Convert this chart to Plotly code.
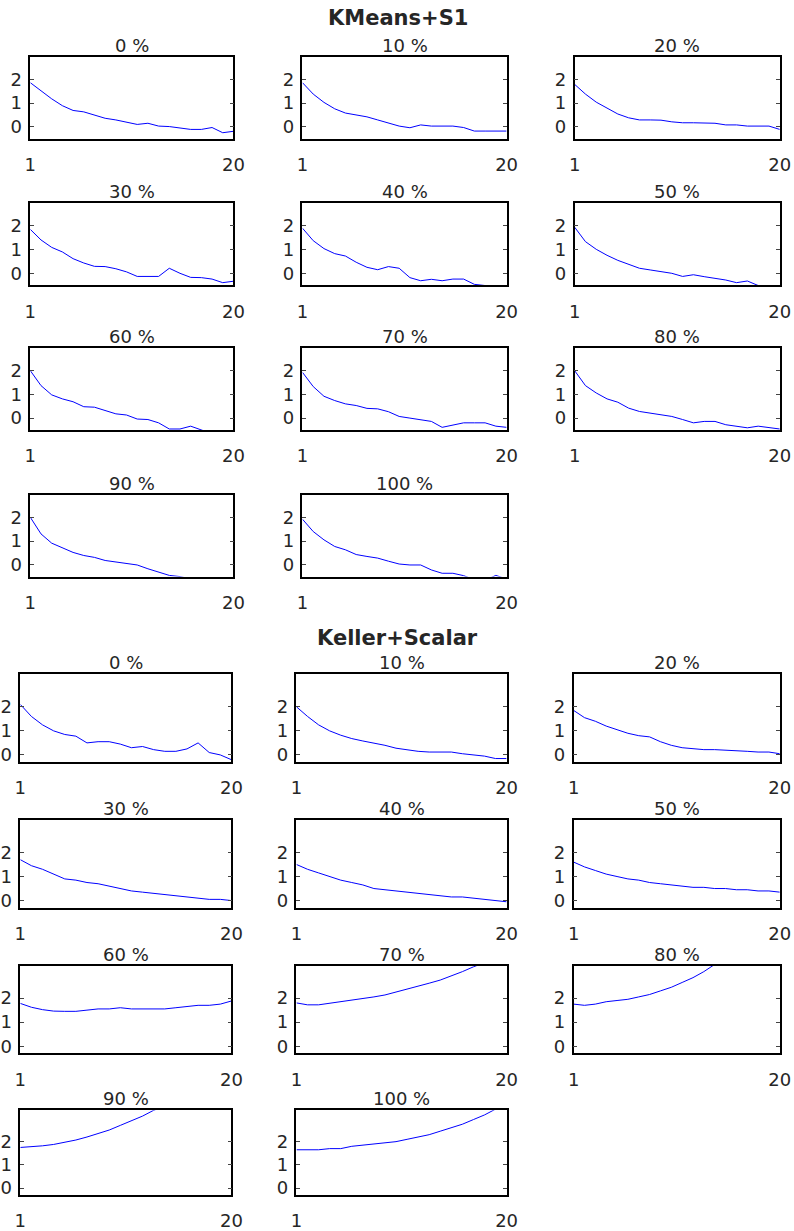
import plotly.graph_objects as go

W, H = 794, 1231

x_vals = list(range(1, 21))
x_tick_vals = [1, 20]
x_tick_text = ["1", "20"]
y_tick_vals = [0, 1, 2]
y_tick_text = ["0", "1", "2"]

panel_labels = ["0 %", "10 %", "20 %", "30 %", "40 %", "50 %",
                "60 %", "70 %", "80 %", "90 %", "100 %"]
group_titles = ["KMeans+S1", "Keller+Scalar"]

# ---- KMeans+S1 ----
kmeans_0 = [1.86, 1.53, 1.18, 0.89, 0.69, 0.63, 0.49, 0.36, 0.29, 0.21, 0.10, 0.15, 0.03, 0.01, -0.04, -0.11, -0.11, -0.03, -0.25, -0.19]
kmeans_10 = [1.86, 1.38, 1.03, 0.76, 0.58, 0.49, 0.42, 0.29, 0.17, 0.03, -0.04, 0.08, 0.03, 0.03, 0.03, -0.03, -0.18, -0.18, -0.18, -0.18]
kmeans_20 = [1.79, 1.38, 1.04, 0.79, 0.54, 0.38, 0.29, 0.29, 0.28, 0.21, 0.17, 0.17, 0.17, 0.15, 0.08, 0.08, 0.03, 0.03, 0.03, -0.11]
kmeans_30 = [1.83, 1.39, 1.08, 0.89, 0.61, 0.43, 0.29, 0.28, 0.19, 0.06, -0.13, -0.13, -0.13, 0.21, 0.0, -0.17, -0.18, -0.24, -0.39, -0.33]
kmeans_40 = [1.88, 1.36, 1.03, 0.82, 0.72, 0.46, 0.25, 0.15, 0.28, 0.21, -0.18, -0.31, -0.25, -0.31, -0.24, -0.24, -0.46, -0.51, -0.51, -0.58]
kmeans_50 = [1.92, 1.32, 1.00, 0.75, 0.54, 0.36, 0.21, 0.14, 0.08, 0.00, -0.13, -0.06, -0.14, -0.21, -0.28, -0.39, -0.32, -0.51, -0.51, -0.58]
kmeans_60 = [2.00, 1.37, 0.98, 0.81, 0.69, 0.48, 0.46, 0.32, 0.18, 0.13, -0.04, -0.06, -0.20, -0.46, -0.46, -0.34, -0.49, -0.66, -0.72, -0.80]
kmeans_70 = [1.93, 1.33, 0.92, 0.74, 0.60, 0.53, 0.41, 0.39, 0.27, 0.07, 0.00, -0.06, -0.14, -0.39, -0.31, -0.20, -0.20, -0.20, -0.34, -0.39]
kmeans_80 = [2.00, 1.37, 1.06, 0.81, 0.67, 0.42, 0.28, 0.21, 0.14, 0.07, -0.06, -0.20, -0.14, -0.14, -0.28, -0.34, -0.41, -0.34, -0.39, -0.46]
kmeans_90 = [2.00, 1.30, 0.91, 0.73, 0.52, 0.39, 0.31, 0.18, 0.11, 0.04, -0.01, -0.17, -0.31, -0.45, -0.50, -0.62, -0.70, -0.75, -0.80, -0.85]
kmeans_100 = [1.92, 1.40, 1.05, 0.77, 0.63, 0.43, 0.35, 0.28, 0.15, 0.03, -0.01, -0.01, -0.22, -0.36, -0.36, -0.46, -0.63, -0.65, -0.45, -0.60]

# ---- Keller+Scalar ----
keller_0 = [2.10, 1.60, 1.25, 1.00, 0.85, 0.78, 0.50, 0.55, 0.55, 0.45, 0.30, 0.35, 0.22, 0.15, 0.15, 0.25, 0.50, 0.10, 0.00, -0.20]
keller_10 = [2.00, 1.60, 1.25, 1.00, 0.82, 0.68, 0.58, 0.50, 0.40, 0.28, 0.20, 0.15, 0.12, 0.12, 0.12, 0.05, 0.00, -0.05, -0.15, -0.15]
keller_20 = [1.85, 1.55, 1.40, 1.20, 1.05, 0.90, 0.80, 0.75, 0.55, 0.40, 0.30, 0.25, 0.22, 0.22, 0.20, 0.20, 0.15, 0.12, 0.12, 0.05]
keller_30 = [1.70, 1.45, 1.30, 1.10, 0.90, 0.85, 0.75, 0.70, 0.60, 0.50, 0.40, 0.35, 0.30, 0.25, 0.20, 0.15, 0.12, 0.05, 0.05, 0.00]
keller_40 = [1.50, 1.30, 1.15, 1.00, 0.85, 0.75, 0.65, 0.50, 0.45, 0.40, 0.35, 0.30, 0.25, 0.20, 0.15, 0.15, 0.10, 0.05, 0.00, -0.05]
keller_50 = [1.60, 1.40, 1.25, 1.10, 1.00, 0.90, 0.85, 0.75, 0.70, 0.65, 0.60, 0.55, 0.55, 0.50, 0.50, 0.45, 0.45, 0.40, 0.40, 0.35]
keller_60 = [1.78, 1.62, 1.52, 1.46, 1.45, 1.45, 1.50, 1.55, 1.55, 1.60, 1.55, 1.55, 1.55, 1.55, 1.60, 1.65, 1.70, 1.70, 1.75, 1.88]
keller_70 = [1.80, 1.72, 1.72, 1.78, 1.85, 1.90, 1.97, 2.05, 2.13, 2.25, 2.35, 2.50, 2.62, 2.75, 2.92, 3.10, 3.30, 3.50, 3.65, 3.80]
keller_80 = [1.75, 1.70, 1.75, 1.85, 1.90, 1.95, 2.05, 2.15, 2.30, 2.45, 2.65, 2.85, 3.10, 3.40, 3.60, 3.75, 3.90, 4.00, 4.10, 4.20]
keller_90 = [1.75, 1.78, 1.82, 1.88, 1.97, 2.07, 2.20, 2.35, 2.50, 2.70, 2.90, 3.10, 3.35, 3.55, 3.70, 3.85, 4.00, 4.10, 4.20, 4.30]
keller_100 = [1.65, 1.65, 1.65, 1.70, 1.70, 1.80, 1.85, 1.90, 1.95, 2.00, 2.10, 2.20, 2.30, 2.45, 2.60, 2.75, 2.95, 3.15, 3.40, 3.60]

kmeans_series = [kmeans_0, kmeans_10, kmeans_20, kmeans_30, kmeans_40, kmeans_50,
                 kmeans_60, kmeans_70, kmeans_80, kmeans_90, kmeans_100]
keller_series = [keller_0, keller_10, keller_20, keller_30, keller_40, keller_50,
                 keller_60, keller_70, keller_80, keller_90, keller_100]

# ---- layout geometry (target page pixels) ----
groups = [
    dict(series=kmeans_series, title_y=18,
         cols=[(30, 233), (302, 506), (574, 779)],
         rows=[(57, 139), (203, 286), (349, 431), (496, 578)],
         yrange=[-0.5, 2.95]),
    dict(series=keller_series, title_y=640,
         cols=[(20, 231), (296, 506), (573, 779)],
         rows=[(676, 764), (822, 910), (968, 1056), (1113, 1198)],
         yrange=[-0.3, 3.35]),
]


def px(x):
    # horizontal calibration of the target pixel positions
    return ((x - 5.7) / 0.978) / W


def py(y):
    return 1 - y / H


FONT = "DejaVu Sans, Liberation Sans, Arial, sans-serif"
TXT = "#262626"
FS = 18

fig = go.Figure()
layout = dict(width=W, height=H, margin=dict(l=0, r=0, t=0, b=0),
              paper_bgcolor="white", plot_bgcolor="white",
              showlegend=False, font=dict(family=FONT, color=TXT, size=FS))
annotations = []

k = 0
for gi, g in enumerate(groups):
    annotations.append(dict(text="<b>%s</b>" % group_titles[gi], x=px(397), y=py(g["title_y"]),
                            xref="paper", yref="paper", showarrow=False,
                            xanchor="center", yanchor="middle",
                            font=dict(size=21, family=FONT, color=TXT)))
    for pi, ys in enumerate(g["series"]):
        r, c = divmod(pi, 3)
        x0, x1 = g["cols"][c]
        y0, y1 = g["rows"][r]
        k += 1
        xa = "xaxis" if k == 1 else "xaxis%d" % k
        ya = "yaxis" if k == 1 else "yaxis%d" % k
        xr = "x" if k == 1 else "x%d" % k
        yr = "y" if k == 1 else "y%d" % k
        fig.add_trace(go.Scatter(x=x_vals, y=ys, mode="lines", xaxis=xr, yaxis=yr,
                                 line=dict(color="#0000ff", width=1)))
        layout[xa] = dict(domain=[px(x0), px(x1)], anchor=yr, range=[1, 20],
                          tickvals=x_tick_vals, ticktext=x_tick_text,
                          ticks="inside", ticklen=4, showline=True, linecolor="black",
                          linewidth=1.5, mirror="ticks", showgrid=False, zeroline=False,
                          ticklabelstandoff=9, tickfont=dict(size=FS, color=TXT))
        layout[ya] = dict(domain=[py(y1), py(y0)], anchor=xr, range=g["yrange"],
                          tickvals=y_tick_vals, ticktext=y_tick_text,
                          ticks="inside", ticklen=4, showline=True, linecolor="black",
                          linewidth=1.5, mirror="ticks", showgrid=False, zeroline=False,
                          ticklabelstandoff=3, tickfont=dict(size=FS, color=TXT))
        annotations.append(dict(text=panel_labels[pi], x=px((x0 + x1) / 2), y=py(y0 + 1),
                                xref="paper", yref="paper", showarrow=False,
                                xanchor="center", yanchor="bottom",
                                font=dict(size=FS, family=FONT, color=TXT)))

layout["annotations"] = annotations
fig.update_layout(**layout)
fig.write_html("out.html", config={"displayModeBar": False},
               post_script="document.body.style.margin='0';"
                           "document.body.style.overflow='hidden';")
